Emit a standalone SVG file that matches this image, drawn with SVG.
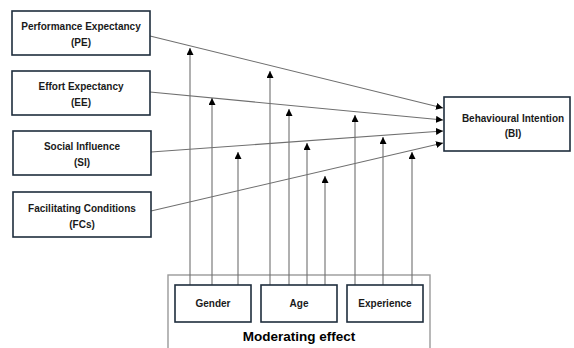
<svg xmlns="http://www.w3.org/2000/svg" width="574" height="348" viewBox="0 0 574 348">
<defs>
<marker id="ah" viewBox="0 0 10 10" refX="10" refY="5" markerWidth="7" markerHeight="7" markerUnits="userSpaceOnUse" orient="auto">
<path d="M0,0 L10,5 L0,10 z" fill="#000"/>
</marker>
<style>
.box{fill:#fff;stroke:#1f2d3d;stroke-width:1.6}
.outer{fill:none;stroke:#9a9a9a;stroke-width:1.4}
.t{font-family:"Liberation Sans",Arial,sans-serif;font-weight:bold;font-size:10px;fill:#1a1a1a;text-anchor:middle}
.big{font-family:"Liberation Sans",Arial,sans-serif;font-weight:bold;font-size:13.5px;fill:#000;text-anchor:middle}
.c{stroke:#6f6f6f;stroke-width:1.1;fill:none;marker-end:url(#ah)}
</style>
</defs>
<rect width="574" height="348" fill="#fff"/>
<g id="moderating">
<rect class="outer" x="168" y="275" width="262" height="80"/>
<text class="big" x="299" y="341">Moderating effect</text>
</g>
<g id="connectors">
<line class="c" x1="150" y1="36" x2="443" y2="108"/>
<line class="c" x1="150" y1="92" x2="443" y2="120"/>
<line class="c" x1="151" y1="152" x2="443" y2="131"/>
<line class="c" x1="151" y1="211" x2="443" y2="143"/>
<line class="c" x1="190" y1="285" x2="190" y2="48"/>
<line class="c" x1="212" y1="285" x2="212" y2="98"/>
<line class="c" x1="238" y1="285" x2="238" y2="152"/>
<line class="c" x1="270" y1="285" x2="270" y2="71"/>
<line class="c" x1="289" y1="285" x2="289" y2="109"/>
<line class="c" x1="307" y1="285" x2="307" y2="143"/>
<line class="c" x1="325" y1="285" x2="325" y2="176"/>
<line class="c" x1="355" y1="285" x2="355" y2="115"/>
<line class="c" x1="383" y1="285" x2="383" y2="137"/>
<line class="c" x1="412" y1="285" x2="412" y2="152"/>
</g>
<g id="pe">
<rect class="box" x="12" y="11" width="138" height="44"/>
<text class="t" x="81" y="30">Performance Expectancy</text>
<text class="t" x="81" y="46">(PE)</text>
</g>
<g id="ee">
<rect class="box" x="12" y="71" width="138" height="44"/>
<text class="t" x="81" y="90">Effort Expectancy</text>
<text class="t" x="81" y="106">(EE)</text>
</g>
<g id="si">
<rect class="box" x="13" y="131" width="138" height="44"/>
<text class="t" x="82" y="150">Social Influence</text>
<text class="t" x="82" y="166">(SI)</text>
</g>
<g id="fc">
<rect class="box" x="13" y="192" width="138" height="45"/>
<text class="t" x="82" y="212">Facilitating Conditions</text>
<text class="t" x="82" y="228">(FCs)</text>
</g>
<g id="bi">
<rect class="box" x="444" y="97" width="126" height="54"/>
<text class="t" x="513" y="122">Behavioural Intention</text>
<text class="t" x="513" y="137">(BI)</text>
</g>
<g id="gender">
<rect class="box" x="175" y="285" width="76" height="37"/>
<text class="t" x="213" y="307">Gender</text>
</g>
<g id="age">
<rect class="box" x="261" y="285" width="76" height="37"/>
<text class="t" x="299" y="307">Age</text>
</g>
<g id="experience">
<rect class="box" x="347" y="285" width="76" height="37"/>
<text class="t" x="385" y="307">Experience</text>
</g>
</svg>
